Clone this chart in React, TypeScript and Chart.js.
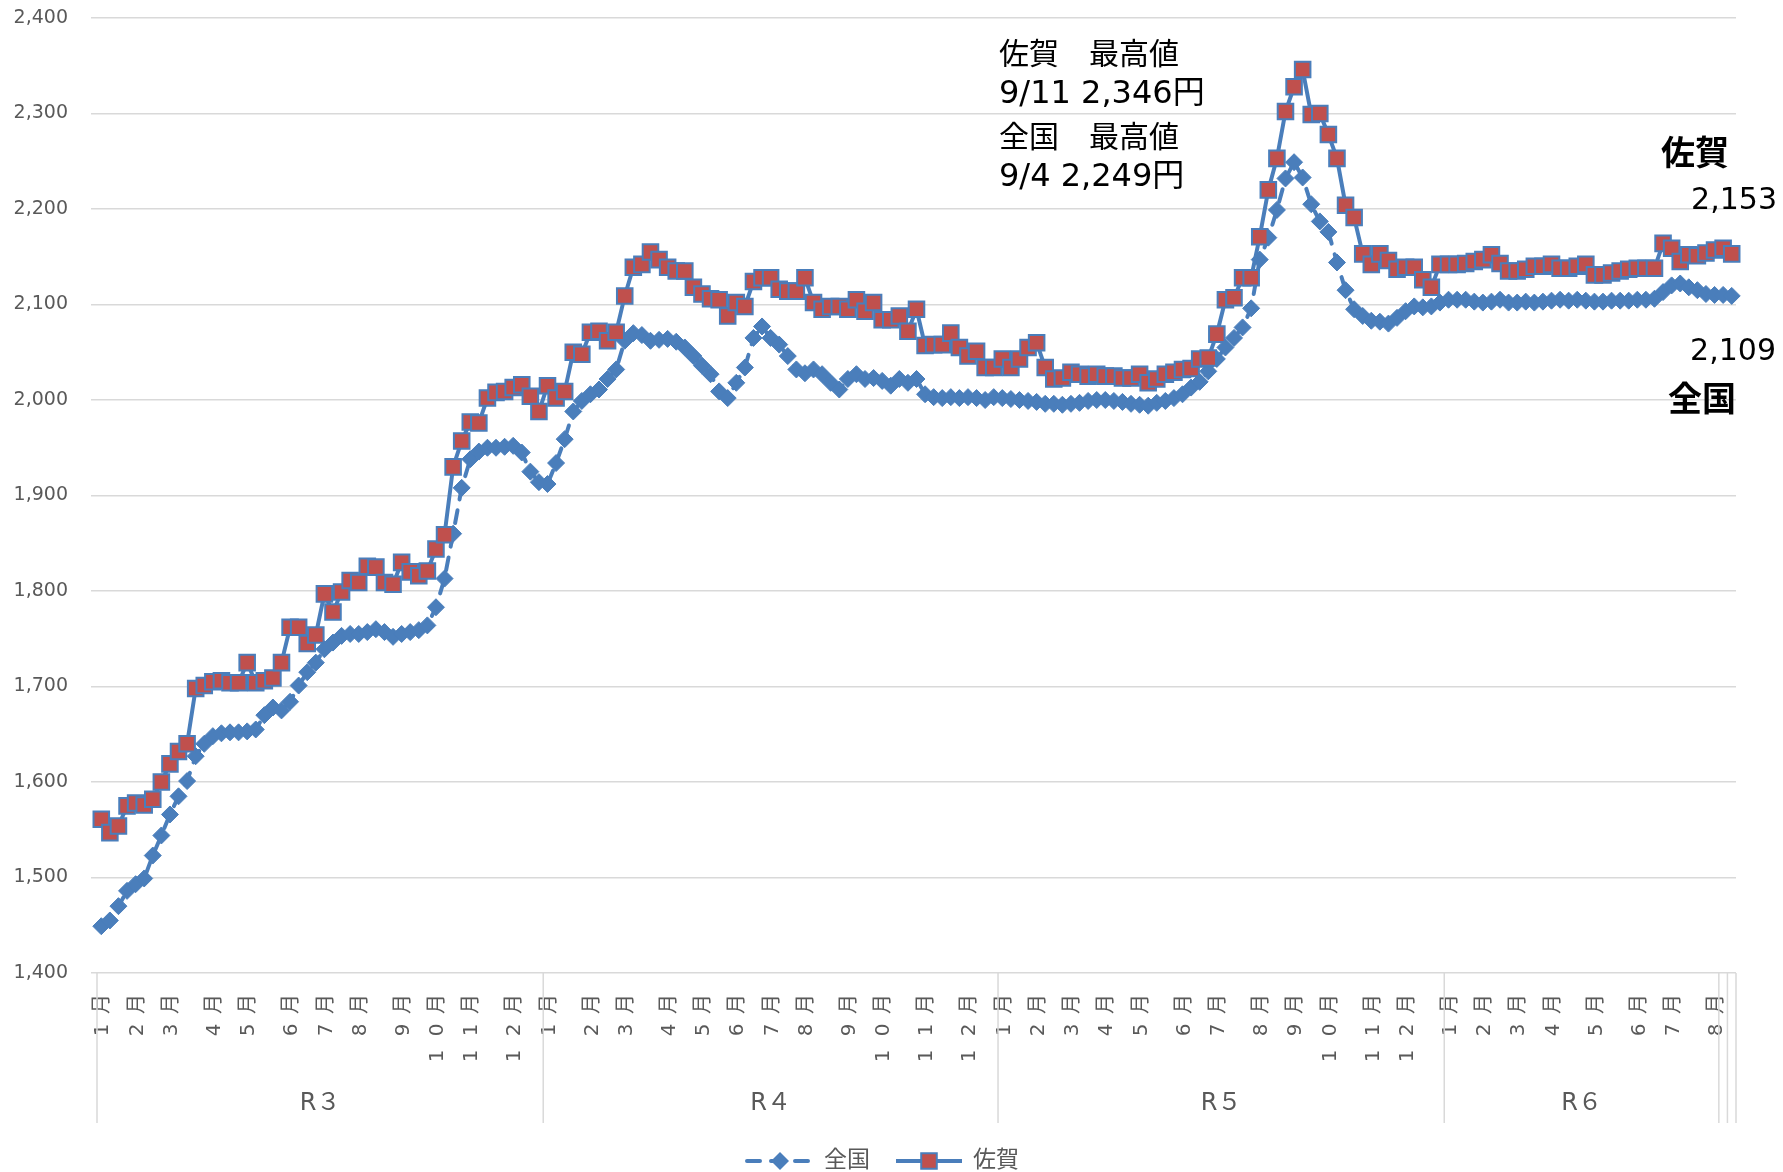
import React, { useEffect, useRef } from 'react';
import { Chart, registerables } from 'chart.js';

Chart.register(...registerables);

// ---- data (weekly retail price, yen / 18L) ----
const zenkokuR3 = [
  1449, 1455, 1470, 1486, 1493, 1499, 1523, 1544, 1566, 1585,
  1601, 1627, 1640, 1648, 1651, 1652, 1652, 1653, 1655, 1670,
  1678, 1675, 1684, 1701, 1715, 1725, 1739, 1746, 1753, 1755,
  1755, 1757, 1760, 1757, 1752, 1755, 1757, 1759, 1764, 1783,
  1813, 1860, 1908, 1938, 1946, 1950, 1950, 1951, 1952, 1945,
  1925, 1914,
];
const sagaR3 = [
  1561, 1547, 1554, 1575, 1578, 1576, 1582, 1600, 1619, 1632,
  1640, 1698, 1701, 1705, 1706, 1704, 1704, 1725, 1704, 1706,
  1709, 1725, 1762, 1762, 1745, 1754, 1797, 1778, 1799, 1811,
  1809, 1826, 1825, 1809, 1807, 1830, 1820, 1816, 1821, 1844,
  1859, 1930, 1957, 1977, 1976, 2002, 2008, 2009, 2013, 2016,
  2004, 1988,
];
const zenkokuR4 = [
  1912, 1934, 1959, 1988, 1999, 2006, 2011, 2022, 2032, 2062,
  2070, 2068, 2062, 2063, 2064, 2061, 2055, 2046, 2036, 2027,
  2009, 2002, 2018, 2034, 2065, 2077, 2065, 2058, 2046, 2032,
  2028, 2032, 2027, 2018, 2011, 2022, 2027, 2022, 2023, 2020,
  2015, 2022, 2018, 2022, 2006, 2003, 2002, 2003, 2002, 2003,
  2002, 2000, 2003,
];
const sagaR4 = [
  2015, 2002, 2009, 2050, 2048, 2071, 2072, 2062, 2071, 2109,
  2139, 2142, 2155, 2147, 2139, 2135, 2135, 2118, 2111, 2106,
  2105, 2088, 2102, 2098, 2124, 2128, 2128, 2116, 2114, 2114,
  2128, 2102, 2095, 2098, 2098, 2095, 2105, 2093, 2102, 2084,
  2084, 2088, 2072, 2095, 2057, 2058, 2058, 2070, 2055, 2046,
  2051, 2034, 2034,
];
const zenkokuR5 = [
  2002, 2001, 2000, 1999, 1998, 1996, 1996, 1995, 1996, 1997,
  1999, 2000, 2000, 1999, 1998, 1996, 1995, 1994, 1997, 1999,
  2002, 2006, 2013, 2019, 2030, 2043, 2055, 2065, 2076, 2096,
  2147, 2170, 2199, 2232, 2249, 2233, 2205, 2187, 2176, 2144,
  2115, 2095, 2088, 2083, 2082, 2080, 2086, 2093, 2098, 2097,
  2098, 2102,
];
const sagaR5 = [
  2043, 2034, 2043, 2055, 2060, 2034, 2022, 2023, 2029, 2027,
  2025, 2027, 2025, 2025, 2023, 2023, 2027, 2018, 2022, 2027,
  2029, 2032, 2033, 2043, 2044, 2069, 2105, 2107, 2128, 2128,
  2171, 2220, 2253, 2302, 2328, 2346, 2299, 2300, 2278, 2253,
  2204, 2191, 2153, 2142, 2153, 2146, 2137, 2139, 2139, 2126,
  2118, 2142,
];
const zenkokuR6 = [
  2105, 2105, 2105, 2103, 2102, 2103, 2105, 2102, 2102, 2103,
  2102, 2103, 2104, 2105, 2104, 2105, 2104, 2103, 2103, 2104,
  2104, 2104, 2105, 2105, 2106, 2113, 2120, 2122, 2118, 2115,
  2111, 2110, 2110, 2109,
];
const sagaR6 = [
  2142, 2142, 2143, 2145, 2147, 2152, 2143, 2135, 2135, 2137,
  2140, 2140, 2142, 2138, 2138, 2140, 2142, 2131, 2131, 2133,
  2135, 2137, 2138, 2138, 2138, 2164, 2159, 2145, 2152, 2151,
  2154, 2157, 2159, 2153,
];

// category structure: weeks per group, group labels, month-start week index per year
const weekCounts = [52, 53, 52, 32, 1, 1];
const yearLabels = ['R３', 'R４', 'R５', 'R６', '', ''];
const monthStartsR3 = [0, 4, 8, 13, 17, 22, 26, 30, 35, 39, 43, 48];
const monthStartsR4 = [0, 5, 9, 14, 18, 22, 26, 30, 35, 39, 44, 49];
const monthStartsR5 = [0, 4, 8, 12, 16, 21, 25, 30, 34, 38, 43, 47];
const monthStartsR6 = [0, 4, 8, 12, 17, 22, 26, 31];

const yMin = 1400;
const yMax = 2400;
const yStep = 100;

const sagaPeakDate = '9/11';
const zenkokuPeakDate = '9/4';

// ---- styles ----
const FONT = "'DejaVu Sans', 'Noto Sans CJK JP', sans-serif";
const GRID = '#d9d9d9';
const AXIS_TEXT = '#595959';
const BLUE = '#4a7ebb';
const RED = '#c0504d';

const zenkoku = [...zenkokuR3, ...zenkokuR4, ...zenkokuR5, ...zenkokuR6];
const saga = [...sagaR3, ...sagaR4, ...sagaR5, ...sagaR6];

function buildLabels(): string[] {
  const starts = [monthStartsR3, monthStartsR4, monthStartsR5, monthStartsR6, [], []];
  const out: string[] = [];
  weekCounts.forEach((n, g) => {
    for (let k = 0; k < n; k++) {
      const m = starts[g].indexOf(k);
      out.push(m >= 0 ? `${m + 1}月` : '');
    }
  });
  return out;
}

const fmt = (v: number) => v.toLocaleString('en-US');

const decorations = {
  id: 'decorations',
  afterDraw(chart: any) {
    const { ctx, chartArea, scales } = chart;
    const x = scales.x;
    const labels = chart.data.labels as string[];
    const base = chartArea.bottom;
    ctx.save();

    // month labels (rotated, one character per row)
    ctx.fillStyle = AXIS_TEXT;
    ctx.font = `20px ${FONT}`;
    ctx.textAlign = 'center';
    ctx.textBaseline = 'middle';
    labels.forEach((lab, i) => {
      if (!lab) return;
      const px = x.getPixelForValue(i) + 2;
      const chars = Array.from(lab).reverse();
      chars.forEach((ch, k) => {
        ctx.save();
        ctx.translate(px, base + 31 + k * 26);
        ctx.rotate(-Math.PI / 2);
        ctx.fillText(ch, 0, 0);
        ctx.restore();
      });
    });

    // group separators
    const bounds = [0];
    let acc = 0;
    weekCounts.forEach((n) => {
      acc += n;
      bounds.push(acc);
    });
    ctx.strokeStyle = GRID;
    ctx.lineWidth = 1.5;
    bounds.forEach((b) => {
      const px = x.getPixelForValue(b - 0.5);
      ctx.beginPath();
      ctx.moveTo(px, base);
      ctx.lineTo(px, base + 150);
      ctx.stroke();
    });

    // group labels
    ctx.font = `24px ${FONT}`;
    ctx.fillStyle = AXIS_TEXT;
    for (let g = 0; g < weekCounts.length; g++) {
      if (!yearLabels[g]) continue;
      const cx = (x.getPixelForValue(bounds[g] - 0.5) + x.getPixelForValue(bounds[g + 1] - 0.5)) / 2;
      ctx.fillText(yearLabels[g], cx, base + 131);
    }

    // peak annotation
    ctx.fillStyle = '#000';
    ctx.textAlign = 'left';
    ctx.font = `30px ${FONT}`;
    ctx.fillText('佐賀　最高値', 999, 56);
    ctx.fillText('全国　最高値', 999, 139);
    ctx.font = `32px ${FONT}`;
    ctx.fillText(`${sagaPeakDate} ${fmt(Math.max(...saga))}円`, 999, 95);
    ctx.fillText(`${zenkokuPeakDate} ${fmt(Math.max(...zenkoku))}円`, 999, 178);

    // latest values at right
    ctx.font = `bold 34px ${FONT}`;
    ctx.textAlign = 'center';
    ctx.fillText('佐賀', 1695, 156);
    ctx.fillText('全国', 1702, 402);
    ctx.font = `30px ${FONT}`;
    ctx.textAlign = 'right';
    ctx.fillText(fmt(saga[saga.length - 1]), 1777, 201);
    ctx.fillText(fmt(zenkoku[zenkoku.length - 1]), 1776, 352);

    // legend
    const ly = 1161;
    let lx = 747;
    ctx.font = `23px ${FONT}`;
    chart.data.datasets.forEach((ds: any) => {
      ctx.save();
      ctx.strokeStyle = ds.borderColor;
      ctx.lineWidth = ds.borderWidth;
      if (ds.borderDash) {
        ctx.setLineDash(ds.borderDash);
        ctx.lineCap = 'round';
      }
      ctx.beginPath();
      ctx.moveTo(lx, ly);
      ctx.lineTo(lx + 66, ly);
      ctx.stroke();
      ctx.restore();
      const mx = lx + 33;
      if (ds.pointStyle === 'rectRot') {
        const r = ds.pointRadius + 0.5;
        ctx.fillStyle = ds.pointBackgroundColor;
        ctx.beginPath();
        ctx.moveTo(mx, ly - r);
        ctx.lineTo(mx + r, ly);
        ctx.lineTo(mx, ly + r);
        ctx.lineTo(mx - r, ly);
        ctx.closePath();
        ctx.fill();
      } else {
        const s = ds.pointRadius * Math.SQRT2;
        ctx.fillStyle = ds.pointBackgroundColor;
        ctx.strokeStyle = ds.pointBorderColor;
        ctx.lineWidth = ds.pointBorderWidth;
        ctx.beginPath();
        ctx.rect(mx - s / 2, ly - s / 2, s, s);
        ctx.fill();
        ctx.stroke();
      }
      ctx.fillStyle = AXIS_TEXT;
      ctx.textAlign = 'left';
      ctx.textBaseline = 'middle';
      ctx.fillText(ds.label, lx + 77, ly);
      lx += 77 + ctx.measureText(ds.label).width + 26;
    });

    ctx.restore();
  },
};

export default function App() {
  const ref = useRef<HTMLCanvasElement>(null);

  useEffect(() => {
    document.body.style.margin = '0';
    const canvas = ref.current;
    if (!canvas) return;
    const chart = new Chart(canvas, {
      type: 'line',
      data: {
        labels: buildLabels(),
        datasets: [
          {
            label: '全国',
            data: zenkoku,
            borderColor: BLUE,
            borderWidth: 4,
            borderDash: [13, 11],
            borderCapStyle: 'round',
            pointStyle: 'rectRot',
            pointRadius: 8.5,
            pointBackgroundColor: BLUE,
            pointBorderColor: BLUE,
            pointBorderWidth: 1,
            tension: 0,
            order: 1,
            clip: false,
          } as any,
          {
            label: '佐賀',
            data: saga,
            borderColor: BLUE,
            borderWidth: 4,
            pointStyle: 'rect',
            pointRadius: 11,
            pointBackgroundColor: RED,
            pointBorderColor: BLUE,
            pointBorderWidth: 2,
            tension: 0,
            order: 0,
            clip: false,
          } as any,
        ],
      },
      options: {
        responsive: false,
        animation: false,
        devicePixelRatio: 1,
        events: [],
        layout: { padding: { top: 18, right: 47, bottom: 0, left: 0 } },
        plugins: {
          legend: { display: false },
          tooltip: { enabled: false },
          title: { display: false },
        },
        scales: {
          x: {
            type: 'category',
            offset: true,
            grid: { display: false },
            border: { display: false },
            ticks: { display: false, autoSkip: false },
            afterFit: (s: any) => {
              s.height = 199;
              s.paddingLeft = 0;
              s.paddingRight = 0;
            },
          },
          y: {
            min: yMin,
            max: yMax,
            grid: { color: GRID, lineWidth: 1.5, tickLength: 6 },
            border: { display: false },
            ticks: {
              stepSize: yStep,
              padding: 23,
              color: AXIS_TEXT,
              font: { family: FONT, size: 19 },
              callback: (v: any) => fmt(Number(v)),
            },
            afterFit: (s: any) => {
              s.width = 97;
              s.paddingTop = 0;
              s.paddingBottom = 0;
            },
          },
        },
      } as any,
      plugins: [decorations],
    });
    return () => chart.destroy();
  }, []);

  return <canvas ref={ref} width={1783} height={1172} style={{ display: 'block' }} />;
}
